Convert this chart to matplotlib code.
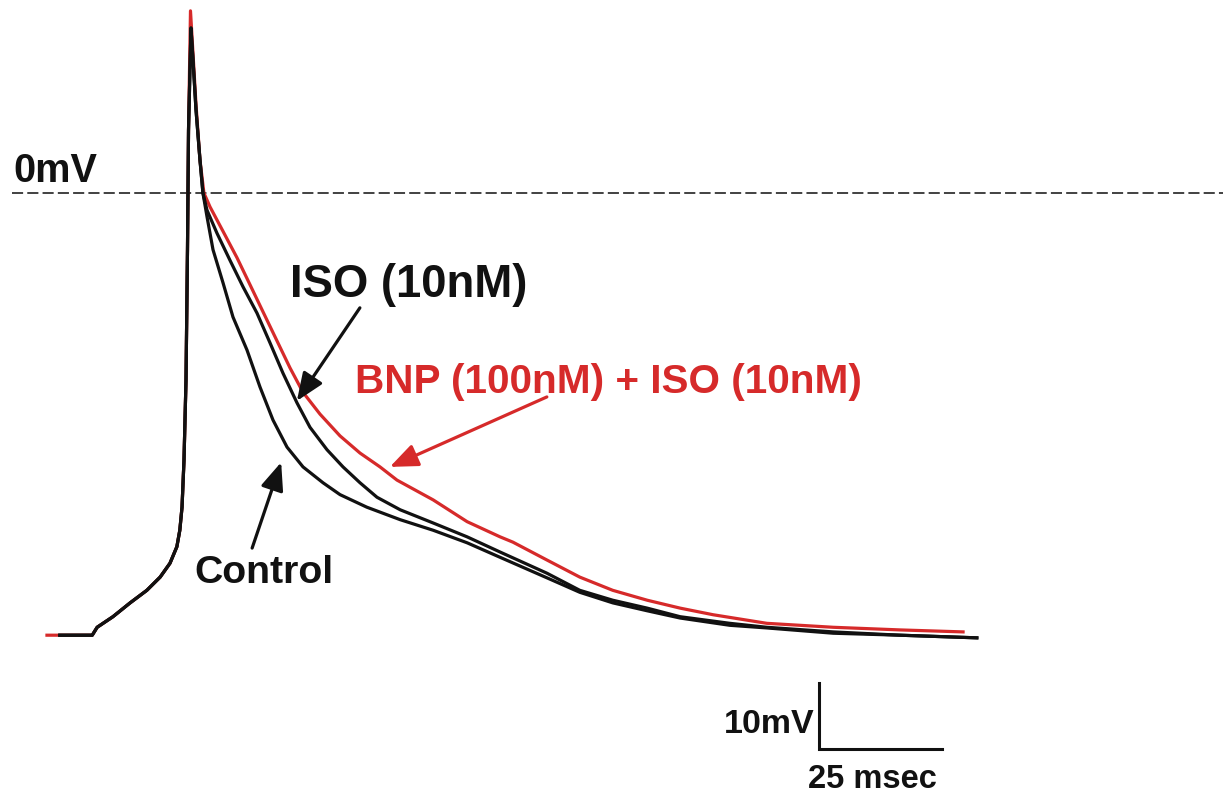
import matplotlib
matplotlib.use('Agg')
import matplotlib.pyplot as plt

plt.rcParams['font.family'] = ['Liberation Sans', 'DejaVu Sans']
plt.rcParams['lines.scale_dashes'] = False

# Trace values: time in ms, membrane potential in mV
# shared foot + upstroke
rise_t = [0.0, 3.0, 9.6, 10.6, 13.8, 17.3, 20.7, 23.4, 25.4, 26.8, 27.4, 27.85, 28.25, 28.66, 28.96, 29.17]
rise_v = [-67.0, -67.0, -67.0, -65.8, -64.2, -62.1, -60.2, -58.2, -56.1, -53.6, -51.1, -47.6, -40.5, -28.3, -8.6, 9.5]

# Control
ctrl_t = [29.67, 30.08, 30.69, 31.5, 32.1, 32.93, 34.15, 36.18, 38.21, 41.06, 43.7, 46.34, 49.19, 52.44,
          56.5, 59.96, 65.4, 72.2, 78.9, 85.8, 92.5, 102.0, 108.7, 115.4, 122.4, 129.1, 139.2,
          146.7, 160.2, 173.8, 189.4]
ctrl_v = [25.0, 20.2, 12.6, 5.0, 0.0, -3.6, -8.6, -13.6, -18.8, -23.8, -29.4, -34.4, -38.5, -41.5,
          -43.9, -45.7, -47.6, -49.5, -51.1, -53.0, -55.2, -58.3, -60.5, -62.1, -63.3, -64.4, -65.5,
          -65.9, -66.7, -67.0, -67.4]

# ISO (10nM)
iso_t = [29.67, 30.08, 30.69, 31.5, 32.1, 32.93, 34.96, 37.6, 40.24, 43.09, 45.73, 48.37, 51.22, 53.86,
         57.32, 60.57, 64.02, 67.48, 72.2, 78.9, 85.8, 92.5, 102.0, 108.7, 115.4, 122.4, 129.1,
         139.2, 146.7, 160.2, 173.8, 189.4]
iso_v = [25.0, 20.2, 12.6, 5.0, 0.0, -2.6, -6.1, -10.2, -14.2, -18.2, -22.7, -27.3, -31.8, -35.5,
         -38.9, -41.5, -43.9, -46.1, -48.0, -50.0, -52.1, -54.4, -57.6, -60.2, -61.7, -62.9, -64.2,
         -65.2, -65.8, -66.5, -67.0, -67.4]

# BNP (100nM) + ISO (10nM)
bnp_t = [29.57, 30.1, 30.7, 31.5, 32.3, 33.54, 36.18, 39.02, 41.67, 44.31, 47.15, 49.8, 52.44, 55.89,
         59.96, 64.02, 68.09, 71.54, 78.9, 85.8, 92.5, 95.1, 102.0, 108.7, 115.4, 122.4, 129.1, 135.8,
         146.7, 160.2, 173.8, 186.6]
bnp_v = [27.6, 20.9, 13.3, 5.0, 0.0, -2.1, -5.8, -9.8, -13.9, -18.0, -22.4, -26.5, -30.2, -33.5,
         -36.8, -39.4, -41.5, -43.5, -46.5, -49.8, -52.1, -52.9, -55.6, -58.2, -60.2, -61.7, -62.9, -63.9,
         -65.2, -65.8, -66.2, -66.5]

RED = '#d62a2a'
BLACK = '#111111'

# pixel scale of the original figure
px_ms = 4.92
px_mv = 6.6

fig = plt.figure(figsize=(12.23, 7.96), dpi=100)
ax = fig.add_axes([0, 0, 1, 1])
ax.axis('off')
ax.set_xlim(-45 / px_ms, (1223 - 45) / px_ms)
ax.set_ylim((193 - 796) / px_mv, 193 / px_mv)

# 0 mV reference
ax.plot([-6.7, 250], [0, 0], color='#333333', lw=1.3, dashes=(8, 3))
ax.text(-6.5, 1.7, '0mV', fontsize=28.5, fontweight='bold', color=BLACK, va='baseline')

# traces
lw = 2.3
ax.plot([0.4] + rise_t[2:] + bnp_t, [-67.0] + rise_v[2:] + bnp_v, color=RED, lw=lw, solid_joinstyle='round')
ax.plot(rise_t[1:] + iso_t, rise_v[1:] + iso_v, color=BLACK, lw=lw, solid_joinstyle='round')
ax.plot(rise_t[1:] + ctrl_t, rise_v[1:] + ctrl_v, color=BLACK, lw=lw, solid_joinstyle='round')

# labels + arrows
arrow = '-|>,head_length=0.85,head_width=0.35'
ax.text(49.8, -15.8, 'ISO (10nM)', fontsize=32.8, fontweight='bold', color=BLACK, va='baseline')
ax.annotate('', xy=(51.2, -31.5), xytext=(64.0, -17.4),
            arrowprops=dict(arrowstyle=arrow, lw=2.3, color=BLACK, shrinkA=0, shrinkB=0, mutation_scale=20))

ax.text(63.0, -30.3, 'BNP (100nM) + ISO (10nM)', fontsize=29.2, fontweight='bold', color=RED, va='baseline')
ax.annotate('', xy=(70.1, -41.5), xytext=(102.0, -30.9),
            arrowprops=dict(arrowstyle=arrow, lw=2.3, color=RED, shrinkA=0, shrinkB=0, mutation_scale=20))

ax.text(30.3, -59.1, 'Control', fontsize=28.3, fontweight='bold', color=BLACK, va='baseline')
ax.annotate('', xy=(48.0, -40.8), xytext=(42.1, -53.8),
            arrowprops=dict(arrowstyle=arrow, lw=2.3, color=BLACK, shrinkA=0, shrinkB=0, mutation_scale=20))

# scale bar: 10 mV / 25 ms
bar_t, bar_v = 157.3, -84.2
ax.plot([bar_t, bar_t, bar_t + 25], [bar_v + 10, bar_v, bar_v], color=BLACK, lw=2.2, solid_joinstyle='miter')
ax.text(bar_t - 0.9, bar_v + 2.4, '10mV', fontsize=24.5, fontweight='bold', color=BLACK, ha='right', va='baseline')
ax.text(bar_t - 2.3, bar_v - 6.0, '25 msec', fontsize=23.5, fontweight='bold', color=BLACK, va='baseline')

fig.savefig('out.png', dpi=100, facecolor='white')
